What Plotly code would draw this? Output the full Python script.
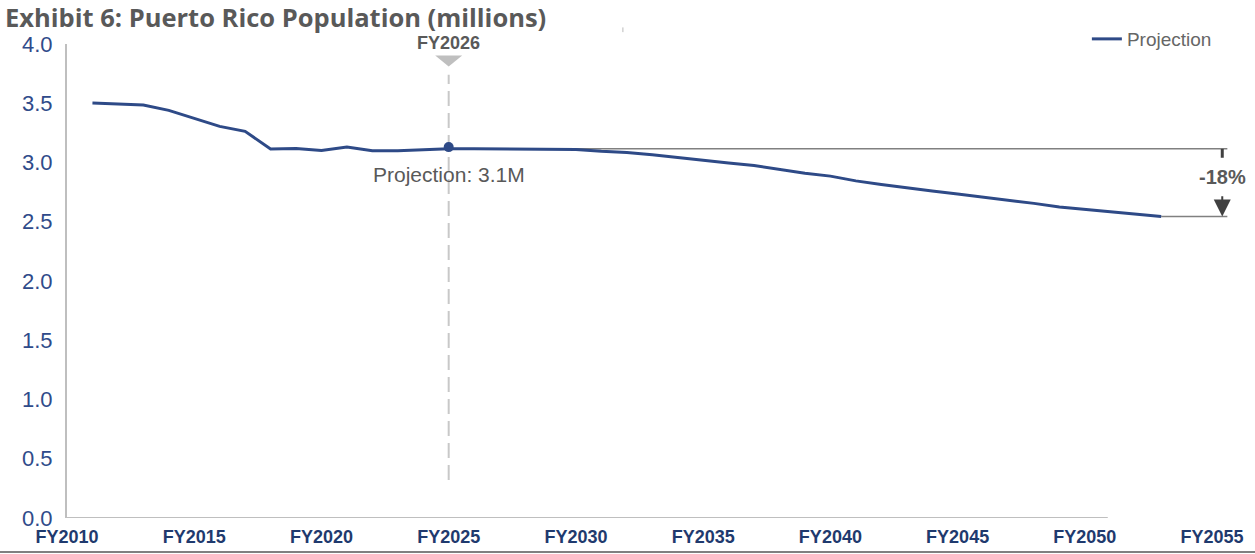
import plotly.graph_objects as go

years = list(range(2011, 2054))
population = [3.502, 3.495, 3.486, 3.44, 3.374, 3.305, 3.263, 3.114, 3.119, 3.102,
              3.131, 3.10, 3.10, 3.11, 3.115, 3.115, 3.115, 3.115, 3.115, 3.11,
              3.095, 3.085, 3.065, 3.04, 3.02, 2.995, 2.975, 2.94, 2.91, 2.885,
              2.845, 2.815, 2.785, 2.76, 2.735, 2.71, 2.68, 2.655, 2.625, 2.605,
              2.587, 2.565, 2.545]
x_ticks = [2010, 2015, 2020, 2025, 2030, 2035, 2040, 2045, 2050, 2055]
x_tick_labels = ["FY" + str(y) for y in x_ticks]
y_ticks = [0, 0.5, 1.0, 1.5, 2.0, 2.5, 3.0, 3.5, 4.0]
y_tick_labels = [f"{v:.1f}" for v in y_ticks]

marker_year = 2025
marker_value = 3.13
marker_label = "FY2026"
start_value = population[years.index(marker_year)]
end_year = years[-1]
end_value = population[-1]
change_pct = round((end_value / start_value - 1) * 100)

LINE = "#2E4A87"
GRAY = "#595959"

fig = go.Figure()
fig.add_trace(go.Scatter(x=years, y=population, mode="lines", name="Projection",
                         line=dict(color=LINE, width=3)))
fig.add_trace(go.Scatter(x=[marker_year], y=[marker_value], mode="markers",
                         marker=dict(color=LINE, size=10), showlegend=False, hoverinfo="skip"))

bx = 2055.4
shapes = [
    dict(type="line", xref="x", yref="y", x0=marker_year, x1=marker_year, y0=0.32, y1=3.74,
         line=dict(color="#C8C8C8", width=2, dash="15px,7px"), layer="below"),
    dict(type="path", xref="x", yref="y",
         path=f"M {marker_year-0.53},3.902 L {marker_year+0.53},3.902 L {marker_year},3.81 Z",
         fillcolor="#BFBFBF", line=dict(width=0)),
    dict(type="line", xref="x", yref="y", x0=marker_year, x1=2055.6, y0=start_value, y1=start_value,
         line=dict(color="#808080", width=1.5), layer="below"),
    dict(type="line", xref="x", yref="y", x0=end_year, x1=2055.6, y0=end_value, y1=end_value,
         line=dict(color="#808080", width=1.5), layer="below"),
    dict(type="line", xref="x", yref="y", x0=bx, x1=bx, y0=start_value, y1=3.04,
         line=dict(color="#404040", width=3)),
    dict(type="line", xref="x", yref="y", x0=2010, x1=2050.9, y0=0, y1=0,
         line=dict(color="#BFBFBF", width=2)),
    dict(type="line", xref="paper", yref="paper", x0=-0.06, x1=1.01, y0=-0.0717, y1=-0.0717,
         line=dict(color="#808080", width=2)),
    dict(type="line", xref="paper", yref="paper", x0=0.4699, x1=0.4699, y0=1.025, y1=1.035,
         line=dict(color="#BBBBBB", width=1)),
]

annotations = [
    dict(text="<b>Exhibit 6: Puerto Rico Population (millions)</b>", xref="paper", yref="paper",
         x=-0.0541, y=1.056, xanchor="left", yanchor="middle", showarrow=False,
         font=dict(family="Open Sans", size=25.5, color=GRAY)),
    dict(text=f"<b>{marker_label}</b>", xref="x", yref="paper", x=marker_year, y=1.003,
         xanchor="center", yanchor="middle", showarrow=False,
         font=dict(family="Arial", size=18, color=GRAY)),
    dict(text=f"Projection: {start_value:.1f}M", xref="x", yref="y", x=marker_year, y=2.895,
         xanchor="center", yanchor="middle", showarrow=False,
         font=dict(family="Arial", size=21, color=GRAY)),
    dict(text=f"<b>{change_pct}%</b>", xref="x", yref="y", x=bx, y=2.88,
         xanchor="center", yanchor="middle", showarrow=False,
         font=dict(family="Arial", size=20, color=GRAY)),
    dict(text="", xref="x", yref="y", x=bx, y=end_value, axref="x", ayref="y",
         ax=bx, ay=2.728, showarrow=True, arrowhead=2, arrowsize=1.7, arrowwidth=2,
         arrowcolor="#404040"),
]

fig.update_layout(
    width=1255, height=554,
    margin=dict(l=67, r=5, t=44, b=36),
    paper_bgcolor="white", plot_bgcolor="white",
    showlegend=True,
    legend=dict(x=0.972, y=1.0105, xanchor="right", yanchor="middle",
                font=dict(family="Arial", size=19, color="#666666"),
                bgcolor="rgba(0,0,0,0)", itemwidth=30),
    shapes=shapes, annotations=annotations,
    xaxis=dict(range=[2010, 2056.49], tickvals=x_ticks, ticktext=x_tick_labels,
               showgrid=False, zeroline=False, showline=False, automargin=False,
               ticks="", ticklabelstandoff=6,
               tickfont=dict(family="Arial", size=18, color="#1F3A6E", weight="bold")),
    yaxis=dict(range=[0, 4], tickvals=y_ticks, ticktext=y_tick_labels,
               showgrid=False, zeroline=False, showline=True, linecolor="#BFBFBF", linewidth=2,
               automargin=False, ticks="", ticklabelstandoff=8,
               tickfont=dict(family="Arial", size=22, color="#2F4B8A")),
)

fig.write_html("out.html")
